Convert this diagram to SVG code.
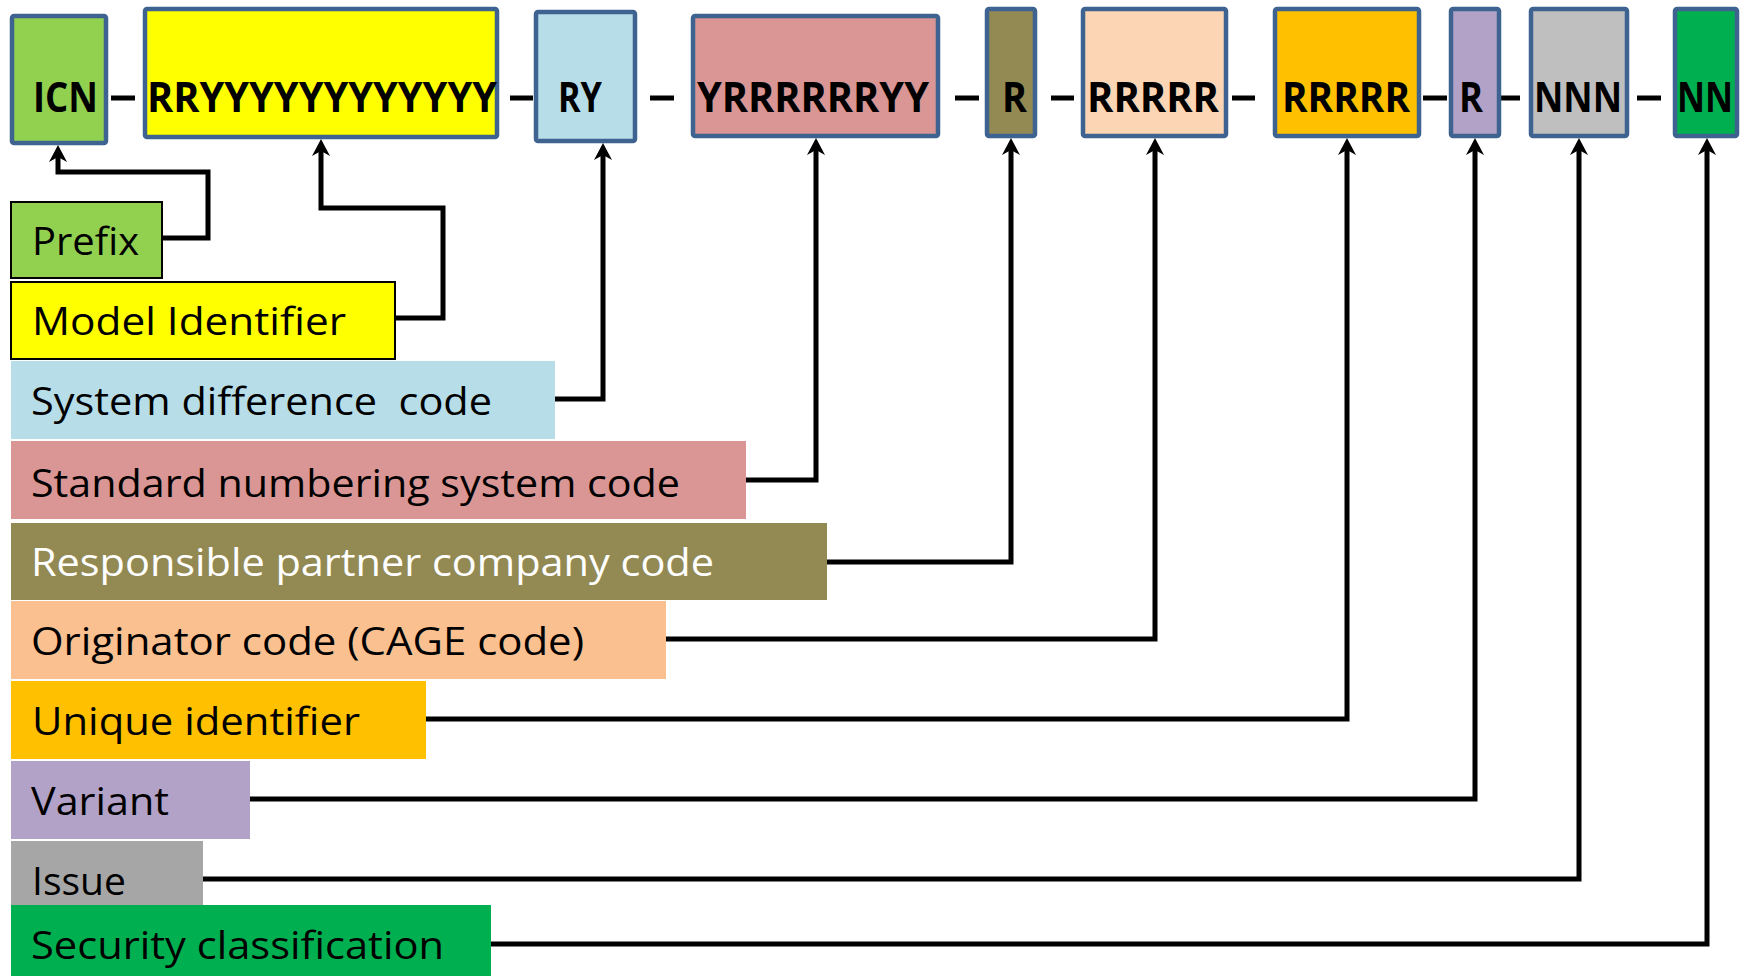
<svg xmlns="http://www.w3.org/2000/svg" width="1749" height="976" viewBox="0 0 1749 976">
<style>
.top{stroke:#3f6390;stroke-width:4.5}
.tt{font-family:"Open Sans","Noto Sans",sans-serif;font-weight:bold;font-size:42px;fill:#000}
.lt{font-family:"Open Sans","Noto Sans",sans-serif;font-size:39px;fill:#000;white-space:pre}
.dash{stroke:#000;stroke-width:5}
.con{fill:none;stroke:#000;stroke-width:5;stroke-linejoin:miter}
</style>
<defs>
<marker id="arr" viewBox="-28 -10 30 20" refX="-10" refY="0" markerWidth="30" markerHeight="20" markerUnits="userSpaceOnUse" orient="auto">
<path d="M0,0 L-17,-9 L-12,0 L-17,9 Z" fill="#000"/>
</marker>
</defs>
<rect width="1749" height="976" fill="#fff"/>

<g id="dashes">
<line class="dash" x1="111" y1="98" x2="135" y2="98"/>
<line class="dash" x1="510" y1="98" x2="533" y2="98"/>
<line class="dash" x1="650" y1="98" x2="674" y2="98"/>
<line class="dash" x1="955" y1="98" x2="979" y2="98"/>
<line class="dash" x1="1051" y1="98" x2="1074" y2="98"/>
<line class="dash" x1="1232" y1="98" x2="1255" y2="98"/>
<line class="dash" x1="1423" y1="98" x2="1447" y2="98"/>
<line class="dash" x1="1497" y1="98" x2="1520" y2="98"/>
<line class="dash" x1="1637" y1="98" x2="1661" y2="98"/>
</g>

<g id="box-icn"><rect class="top" x="12" y="16" width="94" height="127" rx="2" fill="#92d050"/><text class="tt" x="33" y="112" textLength="65" lengthAdjust="spacingAndGlyphs">ICN</text></g>
<g id="box-model"><rect class="top" x="145" y="9" width="352" height="128" rx="2" fill="#ffff00"/><text class="tt" x="147" y="112" textLength="350" lengthAdjust="spacingAndGlyphs">RRYYYYYYYYYYYY</text></g>
<g id="box-sdc"><rect class="top" x="536" y="12" width="99" height="129" rx="2" fill="#b7dde8"/><text class="tt" x="558" y="112" textLength="44" lengthAdjust="spacingAndGlyphs">RY</text></g>
<g id="box-snc"><rect class="top" x="693" y="16" width="245" height="120" rx="2" fill="#d99694"/><text class="tt" x="697" y="112" textLength="232" lengthAdjust="spacingAndGlyphs">YRRRRRRYY</text></g>
<g id="box-rpc"><rect class="top" x="987" y="9" width="48" height="127" rx="2" fill="#938953"/><text class="tt" x="1002" y="112" textLength="25" lengthAdjust="spacingAndGlyphs">R</text></g>
<g id="box-orig"><rect class="top" x="1083" y="9" width="143" height="127" rx="2" fill="#fcd5b5"/><text class="tt" x="1087" y="112" textLength="132" lengthAdjust="spacingAndGlyphs">RRRRR</text></g>
<g id="box-uid"><rect class="top" x="1275" y="9" width="144" height="127" rx="2" fill="#ffc000"/><text class="tt" x="1282" y="112" textLength="128" lengthAdjust="spacingAndGlyphs">RRRRR</text></g>
<g id="box-var"><rect class="top" x="1451" y="9" width="48" height="127" rx="2" fill="#b2a2c7"/><text class="tt" x="1459" y="112" textLength="24" lengthAdjust="spacingAndGlyphs">R</text></g>
<g id="box-issue"><rect class="top" x="1531" y="9" width="96" height="127" rx="2" fill="#bfbfbf"/><text class="tt" x="1534" y="112" textLength="88" lengthAdjust="spacingAndGlyphs">NNN</text></g>
<g id="box-sec"><rect class="top" x="1675" y="9" width="62" height="127" rx="2" fill="#00b050"/><text class="tt" x="1677" y="112" textLength="56" lengthAdjust="spacingAndGlyphs">NN</text></g>

<g id="label-prefix"><rect x="11" y="202" width="151" height="76" fill="#92d050" stroke="#000" stroke-width="2"/><text class="lt" x="32" y="255" textLength="107" lengthAdjust="spacingAndGlyphs">Prefix</text></g>
<g id="label-model"><rect x="11" y="282" width="384" height="77" fill="#ffff00" stroke="#000" stroke-width="2"/><text class="lt" x="32" y="335" textLength="314" lengthAdjust="spacingAndGlyphs">Model Identifier</text></g>
<g id="label-sdc"><rect x="11" y="361" width="544" height="78" fill="#b7dde8"/><text class="lt" x="31" y="415" textLength="461" lengthAdjust="spacingAndGlyphs">System difference  code</text></g>
<g id="label-snc"><rect x="11" y="441" width="735" height="78" fill="#d99694"/><text class="lt" x="31" y="497" textLength="649" lengthAdjust="spacingAndGlyphs">Standard numbering system code</text></g>
<g id="label-rpc"><rect x="11" y="523" width="816" height="77" fill="#938953"/><text class="lt" x="31" y="576" textLength="683" lengthAdjust="spacingAndGlyphs" style="fill:#fff">Responsible partner company code</text></g>
<g id="label-orig"><rect x="11" y="601" width="655" height="78" fill="#fac090"/><text class="lt" x="31" y="655" textLength="553" lengthAdjust="spacingAndGlyphs">Originator code (CAGE code)</text></g>
<g id="label-uid"><rect x="11" y="681" width="415" height="78" fill="#ffc000"/><text class="lt" x="32" y="735" textLength="328" lengthAdjust="spacingAndGlyphs">Unique identifier</text></g>
<g id="label-var"><rect x="11" y="761" width="239" height="78" fill="#b2a2c7"/><text class="lt" x="31" y="815" textLength="138" lengthAdjust="spacingAndGlyphs">Variant</text></g>
<g id="label-issue"><rect x="11" y="841" width="192" height="70" fill="#a6a6a6"/><text class="lt" x="32" y="895" textLength="94" lengthAdjust="spacingAndGlyphs">Issue</text></g>
<g id="label-sec"><rect x="11" y="905" width="480" height="71" fill="#00b050"/><text class="lt" x="31" y="959" textLength="413" lengthAdjust="spacingAndGlyphs">Security classification</text></g>

<g id="connectors">
<path class="con" d="M162,238 H208 V172 H58 V155" marker-end="url(#arr)"/>
<path class="con" d="M395,318 H443 V208 H321 V149" marker-end="url(#arr)"/>
<path class="con" d="M555,399 H603 V153" marker-end="url(#arr)"/>
<path class="con" d="M746,480 H816 V148" marker-end="url(#arr)"/>
<path class="con" d="M827,562 H1011 V148" marker-end="url(#arr)"/>
<path class="con" d="M666,639 H1155 V148" marker-end="url(#arr)"/>
<path class="con" d="M426,719 H1347 V148" marker-end="url(#arr)"/>
<path class="con" d="M250,799 H1475 V148" marker-end="url(#arr)"/>
<path class="con" d="M203,879 H1579 V148" marker-end="url(#arr)"/>
<path class="con" d="M491,944 H1707 V148" marker-end="url(#arr)"/>
</g>
</svg>
